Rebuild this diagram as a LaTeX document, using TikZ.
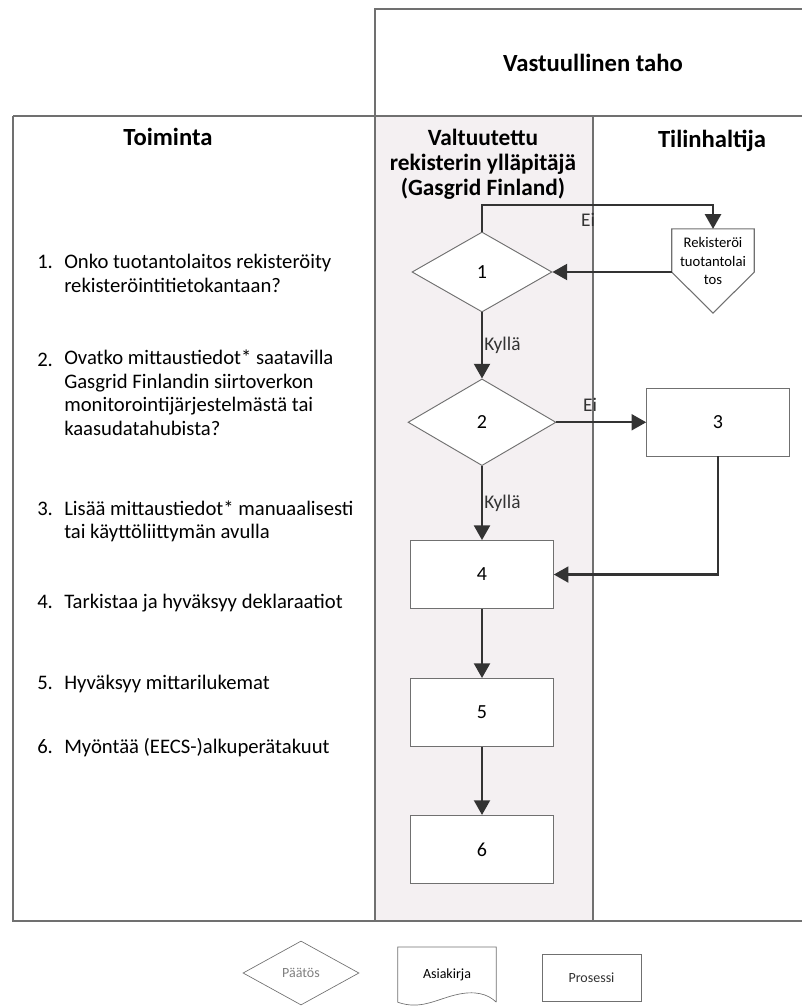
\documentclass[tikz,border=0pt]{standalone}
\usepackage{fontspec}
\setmainfont{Carlito}
\usetikzlibrary{positioning,calc,shapes.geometric,arrows.meta}

\definecolor{lanefill}{HTML}{F4F0F2}
\definecolor{linegray}{HTML}{707070}
\definecolor{arrowgray}{HTML}{333333}

\tikzset{
  frame/.style={draw=linegray,line width=0.8pt},
  proc/.style={draw=linegray,fill=white,line width=0.7pt,minimum width=107pt,minimum height=51pt,font=\fontsize{15}{18}\selectfont},
  decision/.style={diamond,draw=linegray,fill=white,line width=0.7pt,inner sep=0pt,font=\fontsize{15}{18}\selectfont},
  flow/.style={draw=arrowgray,line width=1.6pt,-{Triangle[length=11pt,width=12pt]}},
  yesno/.style={font=\fontsize{14.5}{17}\selectfont,text=arrowgray,inner sep=1pt},
  head/.style={font=\bfseries\fontsize{18.5}{22}\selectfont},
  item/.style={anchor=base west,inner sep=0pt,align=left,font=\fontsize{15.5}{17.6}\selectfont},
  legend/.style={font=\fontsize{10.5}{12}\selectfont}
}

\begin{document}
\begin{tikzpicture}[x=0.75pt,y=-0.75pt]
\useasboundingbox (0,0) rectangle (802,1006);
\fill[lanefill] (375,116) rectangle (593,921);
\draw[frame] (802,9) -- (375,9) -- (375,921);
\draw[frame] (13,116) -- (802,116);
\draw[frame] (13,116) -- (13,921) -- (802,921);
\draw[frame] (593,116) -- (593,921);

\node[head,anchor=base] (resp) at (593,72) {Vastuullinen taho};
\node[head,anchor=base] (act) at (168,145) {Toiminta};
\node[head,anchor=base] (holder) at (712,147) {Tilinhaltija};
\node[align=center,font=\bfseries\fontsize{17.5}{18.75}\selectfont] (admin) at (483,164) {Valtuutettu\\rekisterin ylläpitäjä\\(Gasgrid Finland)};

% numbered items, placed at the baseline of their last line
\node[item] (n1) at (37,268) {1.};
\node[item] (t1) at (64,292) {Onko tuotantolaitos rekisteröity\\rekisteröintitietokantaan?};
\node[item] (n2) at (37,366) {2.};
\node[item] (t2) at (64,435) {Ovatko mittaustiedot* saatavilla\\Gasgrid Finlandin siirtoverkon\\monitorointijärjestelmästä tai\\kaasudatahubista?};
\node[item] (n3) at (37,515) {3.};
\node[item] (t3) at (64,538.5) {Lisää mittaustiedot* manuaalisesti\\tai käyttöliittymän avulla};
\node[item] (n4) at (37,608) {4.};
\node[item] (t4) at (64,608) {Tarkistaa ja hyväksyy deklaraatiot};
\node[item] (n5) at (37,689) {5.};
\node[item] (t5) at (64,689) {Hyväksyy mittarilukemat};
\node[item] (n6) at (37,753) {6.};
\node[item] (t6) at (64,753) {Myöntää (EECS-)alkuperätakuut};

\node[decision,minimum width=105pt,minimum height=60pt] (d1) at (482,272) {1};
\node[decision,minimum width=111pt,minimum height=65pt,below=49.5pt of d1] (d2) {2};
\node[proc,below=55.5pt of d2] (p4) {4};
\node[proc,below=51.75pt of p4] (p5) {5};
\node[proc,below=51pt of p5] (p6) {6};
\node[proc] (p3) at (718,422) {3};

\node[minimum width=61.5pt,minimum height=32pt,inner sep=0pt] (rek) at (713,250.5) {};
\draw[frame,fill=white] (rek.north west) -- (rek.south west) -- ($(rek.south)+(0,41)$) -- (rek.south east) -- (rek.north east) -- cycle;
\node[align=center,font=\fontsize{11}{13.9}\selectfont] (rektext) at (713,261) {Rekisteröi\\tuotantolai\\tos};

\coordinate (top1) at (600,205);
\draw[flow] (d1.north) -- (d1.north |- top1) -| (rek.north);
\node[yesno] (no1) at (588,220) {Ei};
\draw[flow] (rek.west |- d1.east) -- (d1.east);
\draw[flow] (d1.south) -- (d2.north) node[yesno,midway,anchor=west] (yes1) {Kyllä};
\draw[flow] (d2.east) -- (d2.east -| p3.west);
\node[yesno] (no2) at (590,405) {Ei};
\draw[flow] (d2.south) -- (p4.north) node[yesno,midway,anchor=west] (yes2) {Kyllä};
\draw[flow] (p3.south) |- (p4.east);
\draw[flow] (p4) -- (p5);
\draw[flow] (p5) -- (p6);

\node[decision,minimum width=87pt,minimum height=48pt,line width=0.5pt,font=\fontsize{10.5}{12}\selectfont,text=gray] (legdec) at (301,973) {Päätös};
\node[legend,minimum width=73.5pt,minimum height=41pt,anchor=north] (legdoc) at (447,947) {Asiakirja};
\draw[frame,line width=0.5pt] (legdoc.south east) -- (legdoc.north east) -- (legdoc.north west) -- (legdoc.south west) .. controls (420,1010) and (435,1000) .. (455,995) .. controls (475,990) and (488,994) .. (legdoc.south east);
\node[proc,legend,minimum width=74pt,minimum height=35pt,line width=0.5pt,text=arrowgray] (legproc) at (591.5,977.5) {Prosessi};
\end{tikzpicture}
\end{document}
